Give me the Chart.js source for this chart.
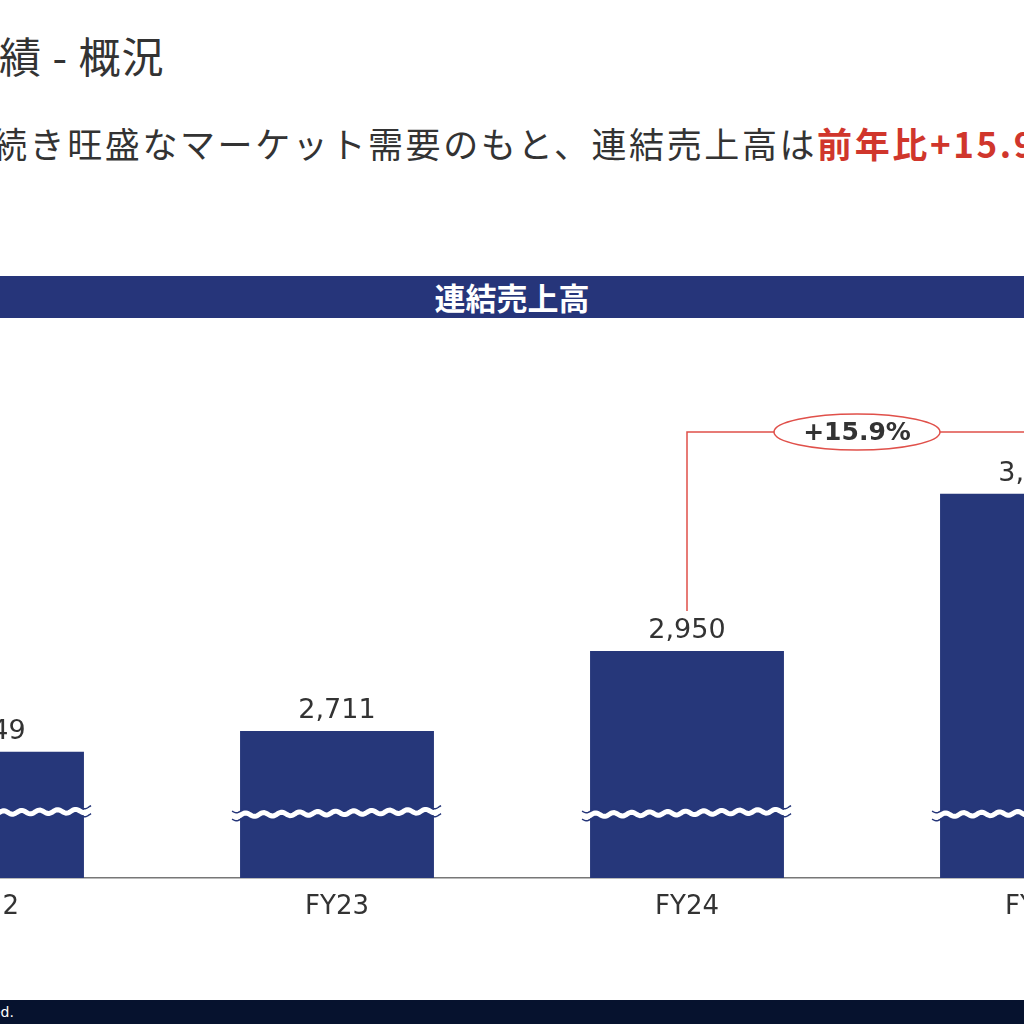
<!DOCTYPE html>
<html>
<head>
<meta charset="utf-8">
<script src="https://cdn.jsdelivr.net/npm/chart.js@4"></script>
<style>
  html, body { margin: 0; width: 1024px; height: 1024px; overflow: hidden; background: #fff; position: relative; }
  .title { position: absolute; left: -44px; top: 24px; font: 42px "Noto Sans CJK JP"; color: #333; white-space: nowrap; letter-spacing: 1px; }
  .sub { position: absolute; left: -8px; top: 117px; font: 35px "Noto Sans CJK JP"; color: #333; white-space: nowrap; letter-spacing: 2.6px; }
  .sub b { color: #d0362c; }
  .band { position: absolute; left: 0; top: 276px; width: 1024px; height: 42px; background: #26357a; color: #fff;
          font: bold 31px "Noto Sans CJK JP"; text-align: center; line-height: 42px; }
  .foot { position: absolute; left: 0; top: 1000px; width: 1024px; height: 24px; background: #06122e; color: #fff;
          font: 14px "DejaVu Sans"; line-height: 24px; white-space: nowrap; }
  #wrap { position: absolute; left: -188px; top: 318px; width: 1400px; height: 600px; }
</style>
</head>
<body>
<div class="title">業績 - 概況</div>
<div class="sub">続き旺盛なマーケット需要のもと、連結売上高は<b>前年比+15.9%</b></div>
<div class="band">連結売上高</div>
<div id="wrap"><canvas id="salesChart"></canvas></div>
<div class="foot"><span style="margin-left:-52px">reserved.</span></div>
<script>
// 連結売上高
var years = ["FY22", "FY23", "FY24", "FY25"];
var sales = [2649, 2711, 2950, 3419];
var growthLabel = "+15.9%";
var breakValue = 2460;

var navy = "#26377a";

var extras = {
    id: "extras",
    afterDatasetsDraw: function (chart) {
        var ctx = chart.ctx;
        var meta = chart.getDatasetMeta(0);
        var y = chart.scales.y;
        ctx.save();
        // value labels
        ctx.font = "27px 'DejaVu Sans'";
        ctx.fillStyle = "#333";
        ctx.textAlign = "center";
        ctx.textBaseline = "bottom";
        meta.data.forEach(function (bar, i) {
            ctx.fillText(sales[i].toLocaleString("en-US"), bar.x, bar.y - 6);
        });
        // wavy axis breaks
        var by = y.getPixelForValue(breakValue);
        meta.data.forEach(function (bar) {
            var left = bar.x - bar.width / 2 - 8, right = bar.x + bar.width / 2 + 8;
            var wave = function (off) {
                ctx.beginPath();
                for (var x = left; x <= right; x += 1) {
                    var yy = by + off + 1.8 * Math.sin((x - left) / 18 * Math.PI * 2) - (x - left) * 0.02;
                    if (x === left) ctx.moveTo(x, yy); else ctx.lineTo(x, yy);
                }
                ctx.stroke();
            };
            ctx.strokeStyle = navy; ctx.lineWidth = 1.5;
            wave(-4); wave(4);
            ctx.strokeStyle = "#fff"; ctx.lineWidth = 5;
            wave(0);
        });
        // growth bracket FY24 -> FY25
        var a = meta.data[2], b = meta.data[3];
        var topY = 114, mid = (a.x + b.x) / 2 - 5;
        ctx.strokeStyle = "#e0504a"; ctx.lineWidth = 1.5;
        ctx.beginPath();
        ctx.moveTo(a.x, a.y - 40); ctx.lineTo(a.x, topY); ctx.lineTo(b.x, topY); ctx.lineTo(b.x, b.y - 40);
        ctx.stroke();
        ctx.beginPath();
        ctx.ellipse(mid, topY, 83, 18, 0, 0, Math.PI * 2);
        ctx.fillStyle = "#fff"; ctx.fill(); ctx.stroke();
        ctx.fillStyle = "#333"; ctx.font = "bold 25px 'DejaVu Sans'";
        ctx.textBaseline = "middle";
        ctx.fillText(growthLabel, mid, topY + 1);
        ctx.restore();
    }
};

new Chart(document.getElementById("salesChart"), {
    type: "bar",
    data: {
        labels: years,
        datasets: [{ data: sales, backgroundColor: navy, barPercentage: 0.554, categoryPercentage: 1 }]
    },
    options: {
        responsive: true,
        maintainAspectRatio: false,
        animation: false,
        layout: { padding: 0 },
        plugins: { legend: { display: false }, tooltip: { enabled: false } },
        scales: {
            x: {
                grid: { display: false },
                border: { color: "#777", width: 1.5 },
                ticks: { color: "#333", font: { family: "DejaVu Sans", size: 26 }, padding: 6 },
                afterFit: function (s) { s.height = 40; }
            },
            y: { display: false, min: 2272, max: 3944 }
        }
    },
    plugins: [extras]
});
</script>
</body>
</html>
